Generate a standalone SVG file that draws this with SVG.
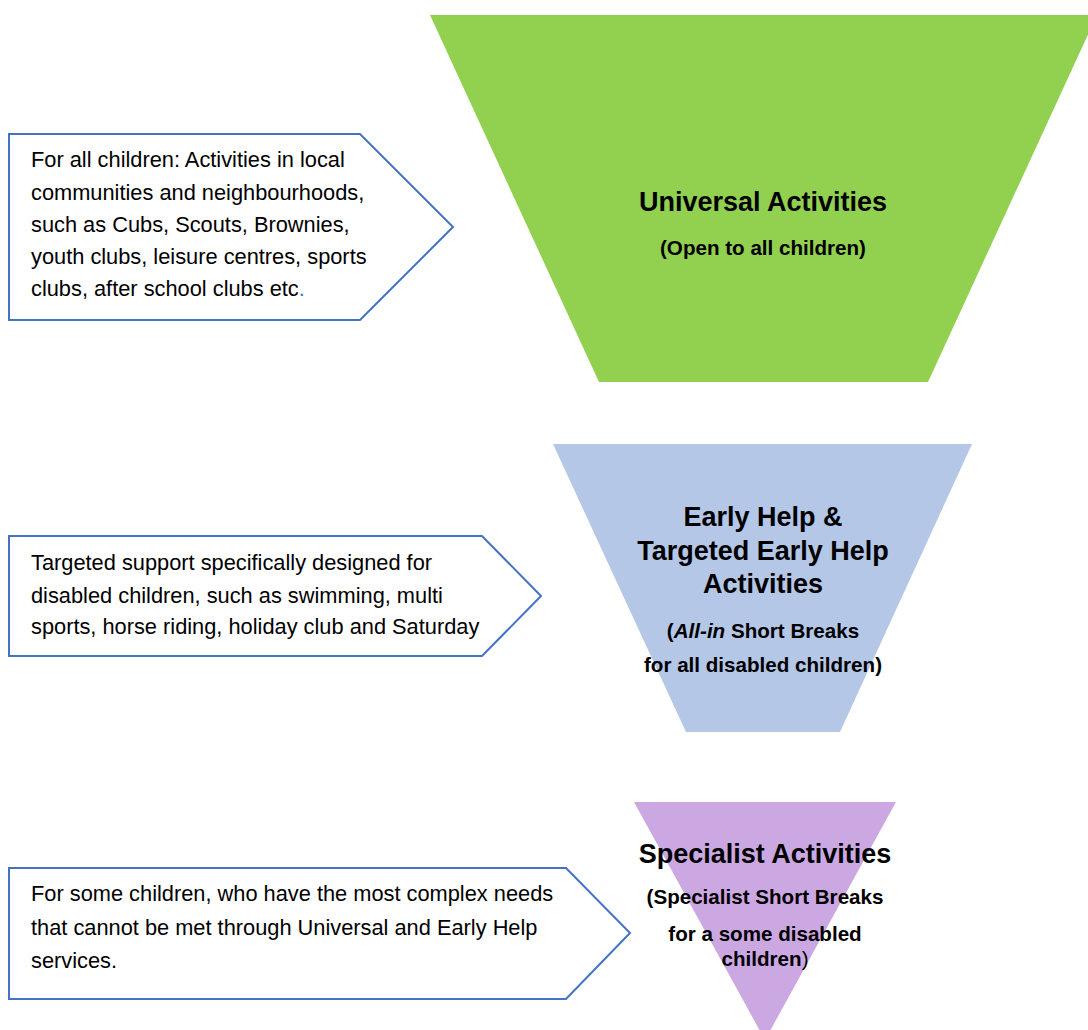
<svg xmlns="http://www.w3.org/2000/svg" width="1088" height="1030" viewBox="0 0 1088 1030">
<style>
.callout{fill:#ffffff;stroke:#4472C4;stroke-width:2}
.body{font-family:"Liberation Sans",Arial,sans-serif;font-size:21.8px;fill:#000}
.title{font-family:"Liberation Sans",Arial,sans-serif;font-size:27px;font-weight:bold;fill:#000;text-anchor:middle}
.sub{font-family:"Liberation Sans",Arial,sans-serif;font-size:20.6px;font-weight:bold;fill:#000;text-anchor:middle}
</style>
<rect width="1088" height="1030" fill="#ffffff"/>
<g id="universal">
<polygon points="430,15 1097,15 928,382 599,382" fill="#92D050"/>
<text class="title" x="763" y="211">Universal Activities</text>
<text class="sub" x="763" y="255">(Open to all children)</text>
</g>
<g id="early-help">
<polygon points="553,444 972,444 840,732 686,732" fill="#B4C7E7"/>
<text class="title" x="763" y="526">Early Help &amp;</text>
<text class="title" x="763" y="560">Targeted Early Help</text>
<text class="title" x="763" y="593">Activities</text>
<text class="sub" x="763" y="638">(<tspan font-style="italic">All-in</tspan> Short Breaks</text>
<text class="sub" x="763" y="672">for all disabled children)</text>
</g>
<g id="specialist">
<polygon points="634,802 896,802 765,1040" fill="#CCA8E3"/>
<text class="title" x="765" y="863">Specialist Activities</text>
<text class="sub" x="765" y="904">(Specialist Short Breaks</text>
<text class="sub" x="765" y="941">for a some disabled</text>
<text class="sub" x="765" y="966">children<tspan font-weight="normal">)</tspan></text>
</g>
<g id="callout-universal">
<polygon class="callout" points="9,134 360,134 453,227 360,320 9,320"/>
<text class="body" x="31" y="167">For all children: Activities in local</text>
<text class="body" x="31" y="200">communities and neighbourhoods,</text>
<text class="body" x="31" y="232">such as Cubs, Scouts, Brownies,</text>
<text class="body" x="31" y="264">youth clubs, leisure centres, sports</text>
<text class="body" x="31" y="296">clubs, after school clubs etc<tspan fill="#4472C4">.</tspan></text>
</g>
<g id="callout-early-help">
<polygon class="callout" points="9,536 482,536 541,596 482,656 9,656"/>
<text class="body" x="31" y="570">Targeted support specifically designed for</text>
<text class="body" x="31" y="603">disabled children, such as swimming, multi</text>
<text class="body" x="31" y="634">sports, horse riding, holiday club and Saturday</text>
</g>
<g id="callout-specialist">
<polygon class="callout" points="9,868 566,868 630,933 566,999 9,999"/>
<text class="body" x="31" y="901">For some children, who have the most complex needs</text>
<text class="body" x="31" y="935">that cannot be met through Universal and Early Help</text>
<text class="body" x="31" y="968">services.</text>
</g>
<g id="connectors"></g>
</svg>
